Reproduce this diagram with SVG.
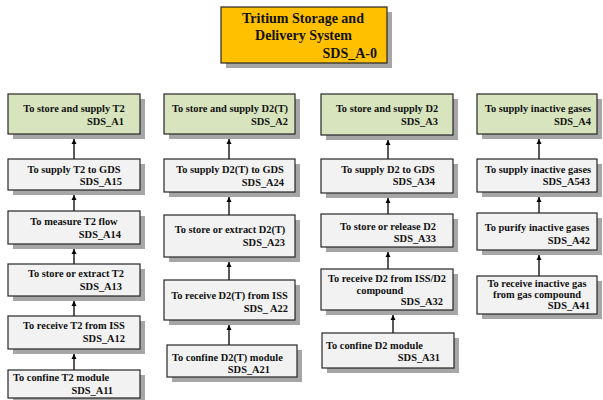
<svg xmlns="http://www.w3.org/2000/svg" width="603" height="400" viewBox="0 0 603 400">
<defs>
<style>
.box{stroke:#262626;stroke-width:1.2}
.g{fill:#D7E4BD}
.w{fill:#F2F2F2}
.o{fill:#FFC000}
.sh{fill:#A6A6A6}
text{font-family:"Liberation Serif","Times New Roman",serif;font-weight:bold;font-size:10.4px;fill:#111}
.t{font-size:14px}
.m{text-anchor:middle}
.e{text-anchor:end}
.c{stroke:#000;stroke-width:1.3;fill:none;marker-end:url(#ah)}
</style>
<marker id="ah" markerWidth="5" markerHeight="6" refX="5" refY="2.5" orient="auto" markerUnits="userSpaceOnUse" viewBox="0 0 5 5">
<path d="M0,0 L5,2.5 L0,5 z" fill="#000"/>
</marker>
</defs>
<rect width="603" height="400" fill="#fff"/>

<g id="A0">
<rect class="sh" x="226" y="12" width="166" height="56"/>
<rect class="box o" x="221" y="7" width="166" height="56"/>
<text class="t m" x="303" y="23">Tritium Storage and</text>
<text class="t m" x="303.5" y="40">Delivery System</text>
<text class="t e" x="377" y="58">SDS_A-0</text>
</g>

<g id="connectors">
<path class="c" d="M74,159 V139"/>
<path class="c" d="M74,211 V195"/>
<path class="c" d="M74,264 V249"/>
<path class="c" d="M74,316 V301"/>
<path class="c" d="M74,370 V354"/>
<path class="c" d="M229,159 V139"/>
<path class="c" d="M229,215 V197"/>
<path class="c" d="M229,280 V262"/>
<path class="c" d="M229,345 V325"/>
<path class="c" d="M388,159 V140"/>
<path class="c" d="M388,214 V198"/>
<path class="c" d="M388,269 V252"/>
<path class="c" d="M393,333 V315"/>
<path class="c" d="M539,159 V139"/>
<path class="c" d="M539,213 V197"/>
<path class="c" d="M539,276 V255"/>
</g>

<g id="A1">
<rect class="sh" x="13" y="99" width="132" height="40"/>
<rect class="box g" x="8" y="94" width="132" height="40"/>
<text class="m" x="74" y="112">To store and supply T2</text>
<text class="e" x="124" y="125">SDS_A1</text>
</g>
<g id="A15">
<rect class="sh" x="13" y="164" width="132" height="31"/>
<rect class="box w" x="8" y="159" width="132" height="31"/>
<text class="m" x="74" y="173">To supply T2 to GDS</text>
<text class="e" x="122" y="185">SDS_A15</text>
</g>
<g id="A14">
<rect class="sh" x="13" y="216" width="132" height="33"/>
<rect class="box w" x="8" y="211" width="132" height="33"/>
<text class="m" x="74" y="225">To measure T2 flow</text>
<text class="e" x="121" y="237.5">SDS_A14</text>
</g>
<g id="A13">
<rect class="sh" x="13" y="269" width="132" height="32"/>
<rect class="box w" x="8" y="264" width="132" height="32"/>
<text class="m" x="76" y="277">To store or extract T2</text>
<text class="e" x="122" y="289.5">SDS_A13</text>
</g>
<g id="A12">
<rect class="sh" x="13" y="321" width="132" height="33"/>
<rect class="box w" x="8" y="316" width="132" height="33"/>
<text class="m" x="74" y="329">To receive T2 from ISS</text>
<text class="e" x="125" y="341.5">SDS_A12</text>
</g>
<g id="A11">
<rect class="sh" x="13" y="375" width="132" height="28"/>
<rect class="box w" x="8" y="370" width="132" height="28"/>
<text x="13" y="380.5">To confine T2 module</text>
<text class="e" x="113" y="393.5">SDS_A11</text>
</g>

<g id="A2">
<rect class="sh" x="169" y="99" width="131" height="40"/>
<rect class="box g" x="164" y="94" width="131" height="40"/>
<text class="m" x="230" y="112">To store and supply D2(T)</text>
<text class="e" x="288" y="125">SDS_A2</text>
</g>
<g id="A24">
<rect class="sh" x="169" y="164" width="131" height="33"/>
<rect class="box w" x="164" y="159" width="131" height="33"/>
<text class="m" x="230" y="173">To supply D2(T) to GDS</text>
<text class="e" x="284" y="185.5">SDS_A24</text>
</g>
<g id="A23">
<rect class="sh" x="169" y="220" width="131" height="42"/>
<rect class="box w" x="164" y="215" width="131" height="42"/>
<text class="m" x="230" y="232.5">To store or extract D2(T)</text>
<text class="e" x="285" y="245.5">SDS_A23</text>
</g>
<g id="A22">
<rect class="sh" x="169" y="285" width="131" height="40"/>
<rect class="box w" x="164" y="280" width="131" height="40"/>
<text class="m" x="229.5" y="298.5">To receive D2(T) from ISS</text>
<text class="e" x="288" y="311.5">SDS_ A22</text>
</g>
<g id="A21">
<rect class="sh" x="172" y="350" width="130" height="32"/>
<rect class="box w" x="167" y="345" width="130" height="32"/>
<text x="172" y="360.5">To confine D2(T) module</text>
<text class="e" x="270" y="372.5">SDS_A21</text>
</g>

<g id="A3">
<rect class="sh" x="326" y="99" width="132" height="41"/>
<rect class="box g" x="321" y="94" width="132" height="41"/>
<text class="m" x="387" y="112">To store and supply D2</text>
<text class="e" x="438" y="125">SDS_A3</text>
</g>
<g id="A34">
<rect class="sh" x="326" y="164" width="132" height="34"/>
<rect class="box w" x="321" y="159" width="132" height="34"/>
<text class="m" x="388" y="173">To supply D2 to GDS</text>
<text class="e" x="435" y="185">SDS_A34</text>
</g>
<g id="A33">
<rect class="sh" x="326" y="219" width="132" height="33"/>
<rect class="box w" x="321" y="214" width="132" height="33"/>
<text class="m" x="388" y="230">To store or release D2</text>
<text class="e" x="436" y="242">SDS_A33</text>
</g>
<g id="A32">
<rect class="sh" x="326" y="274" width="132" height="41"/>
<rect class="box w" x="321" y="269" width="132" height="41"/>
<text class="m" x="387" y="281.5">To receive D2 from ISS/D2</text>
<text class="m" x="380" y="293.5">compound</text>
<text class="e" x="443" y="305">SDS_A32</text>
</g>
<g id="A31">
<rect class="sh" x="327" y="338" width="132" height="35"/>
<rect class="box w" x="322" y="333" width="132" height="35"/>
<text x="326" y="348.5">To confine D2 module</text>
<text class="e" x="440" y="361">SDS_A31</text>
</g>

<g id="A4">
<rect class="sh" x="482" y="99" width="120" height="40"/>
<rect class="box g" x="477" y="94" width="120" height="40"/>
<text class="m" x="538" y="112">To supply inactive gases</text>
<text class="e" x="591" y="125">SDS_A4</text>
</g>
<g id="A543">
<rect class="sh" x="482" y="164" width="120" height="33"/>
<rect class="box w" x="477" y="159" width="120" height="33"/>
<text class="m" x="538" y="173">To supply inactive gases</text>
<text class="e" x="590" y="185">SDS_A543</text>
</g>
<g id="A42">
<rect class="sh" x="482" y="218" width="120" height="37"/>
<rect class="box w" x="477" y="213" width="120" height="37"/>
<text class="m" x="537" y="230.5">To purify inactive gases</text>
<text class="e" x="590" y="243.5">SDS_A42</text>
</g>
<g id="A41">
<rect class="sh" x="482" y="281" width="120" height="38"/>
<rect class="box w" x="477" y="276" width="120" height="38"/>
<text class="m" x="537" y="286.5">To receive inactive gas</text>
<text class="m" x="537" y="297.5">from gas compound</text>
<text class="e" x="590" y="308.5">SDS_A41</text>
</g>
</svg>
